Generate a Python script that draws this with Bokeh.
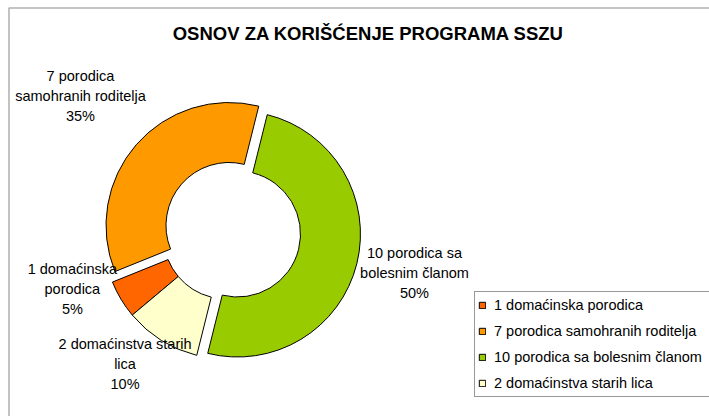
import math
from bokeh.plotting import figure
from bokeh.models import ColumnDataSource, Range1d, Legend, LegendItem, BoxAnnotation
from bokeh.core.properties import value
from bokeh.embed import file_html
from bokeh.resources import INLINE

# ---- data ----
categories = ["1 domaćinska porodica", "7 porodica samohranih roditelja",
              "10 porodica sa bolesnim članom", "2 domaćinstva starih lica"]
label_lines = ["1 domaćinska\nporodica", "7 porodica\nsamohranih roditelja",
               "10 porodica sa\nbolesnim članom", "2 domaćinstva starih\nlica"]
counts = [1, 7, 10, 2]
title_text = "OSNOV ZA KORIŠĆENJE PROGRAMA SSZU"

# ---- style / layout ----
colors = ["#FF6600", "#FF9900", "#99CC00", "#FFFFCC"]
W, H = 709, 416
CX, CY = 226.0, 180.5          # donut centre (data units = screen px, y up)
R_OUT, R_IN = 123, 63
FIRST_ANGLE = 230.0            # degrees clockwise from 12 o'clock
EXPLODE = [(0, 0), (2.5, 10.5), (11, 2), (0, 0)]   # per-slice shift (x, y up)
LABEL_DIST = [163, 202, 191.5, 163]
LABEL_TURN = [12, 2.7, -3, 6.5]
FONT = "Liberation Sans"

total = sum(counts)
starts, ends, xs, ys, lx, ly, texts = [], [], [], [], [], [], []
a = FIRST_ANGLE
for i, c in enumerate(counts):
    b = a + 360.0 * c / total
    starts.append(math.radians(90 - a))
    ends.append(math.radians(90 - b))
    xs.append(CX + EXPLODE[i][0])
    ys.append(CY + EXPLODE[i][1])
    m = math.radians((a + b) / 2 + LABEL_TURN[i])
    lx.append(CX + LABEL_DIST[i] * math.sin(m))
    ly.append(CY + LABEL_DIST[i] * math.cos(m))
    texts.append(label_lines[i] + "\n" + f"{round(100 * c / total)}%")
    a = b

src = ColumnDataSource(dict(x=xs, y=ys, start=starts, end=ends, color=colors,
                            name=categories))
lsrc = ColumnDataSource(dict(x=lx, y=ly, text=texts))

p = figure(width=W, height=H, output_backend="svg", toolbar_location=None,
           x_range=Range1d(0, W), y_range=Range1d(0, H),
           x_axis_type=None, y_axis_type=None, min_border=0)
p.outline_line_color = None
p.background_fill_color = "white"
p.border_fill_color = "white"

# chart frame: left and top edges visible, the rest runs off the picture
p.add_layout(BoxAnnotation(left=8.5, right=W + 50, bottom=-50, top=H - 7.5,
                           fill_alpha=0, line_color="black", line_width=1.6,
                           level="underlay"))

r = p.annular_wedge(x="x", y="y", inner_radius=R_IN, outer_radius=R_OUT,
                    start_angle="start", end_angle="end", direction="clock",
                    fill_color="color", line_color="black", line_width=1,
                    source=src)

p.text(x="x", y="y", text="text", source=lsrc, text_align="center",
       text_baseline="middle", text_font=value(FONT), text_font_size="14.5px",
       text_line_height=1.25, text_color="black")

p.text(x=[368], y=[H - 33], text=[title_text], text_align="center",
       text_baseline="middle", text_font=value(FONT), text_font_size="18.5px",
       text_font_style="bold", text_color="black")

items = [LegendItem(label=categories[i], renderers=[r], index=i) for i in range(len(counts))]
legend = Legend(items=items, location=(474, 19), glyph_width=8, glyph_height=8,
                label_height=20, spacing=6, padding=3, margin=0, label_standoff=8,
                label_width=250, label_text_font=FONT, label_text_font_size="14.5px",
                label_text_color="black", border_line_color="#333333",
                border_line_width=1, background_fill_color="white",
                background_fill_alpha=1.0)
p.add_layout(legend)

open("out.html", "w").write(file_html(p, INLINE))
